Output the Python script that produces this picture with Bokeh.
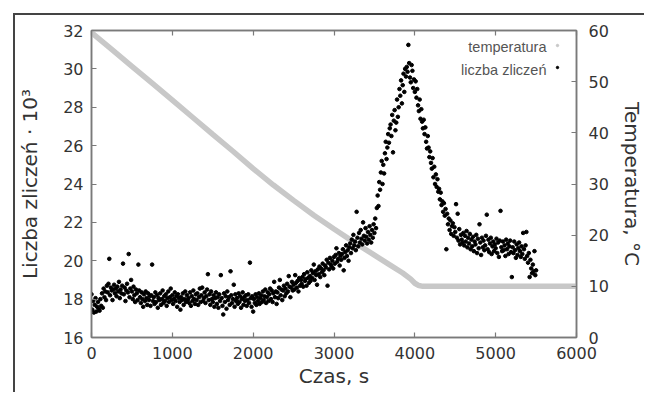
from bokeh.plotting import figure
from bokeh.models import (Range1d, LinearAxis, FixedTicker, Label,
                          Legend, LegendItem, CustomJSTickFormatter)
from bokeh.embed import file_html
from bokeh.resources import INLINE

# ---------------- data ----------------
x_ticks = [0, 1000, 2000, 3000, 4000, 5000, 6000]
y_ticks = [16, 18, 20, 22, 24, 26, 28, 30, 32]
t_ticks = [0, 10, 20, 30, 40, 50, 60]

# temperature (°C)
temp_time = [0, 250, 500, 750, 1000, 1250, 1500, 1750, 2000, 2250, 2500, 2750,
             3000, 3250, 3500, 3700, 3850, 3950, 4000, 4050, 4100, 6000]
temp_c = [59.6, 56.3, 53.0, 49.7, 46.4, 43.05, 39.7, 36.4, 33.0, 29.8, 26.8, 23.9,
          21.2, 18.6, 16.1, 14.1, 12.6, 11.4, 10.6, 10.15, 10.0, 10.0]

# counts (x 10^3), one point every 10 s starting at 0 s
counts = [
    18.25, 17.45, 17.9, 17.3, 17.7, 18.05, 17.35, 17.6, 17.85, 17.5,
    17.4, 18.0, 17.65, 18.3, 17.55, 18.55, 18.1, 18.4, 17.95, 18.7,
    18.35, 18.8, 20.1, 18.2, 18.6, 18.45, 17.95, 18.5, 18.75, 18.3,
    18.55, 18.15, 18.65, 18.4, 18.9, 18.05, 18.5, 18.3, 18.7, 19.85,
    18.25, 18.6, 17.9, 18.45, 18.8, 18.35, 20.35, 18.1, 18.55, 19.0,
    18.4, 18.0, 18.65, 18.2, 17.85, 18.5, 18.3, 17.95, 19.8, 18.45,
    18.1, 17.8, 18.35, 18.0, 17.6, 18.25, 17.9, 18.4, 18.05, 17.7,
    18.3, 17.95, 18.15, 17.65, 18.2, 19.8, 17.9, 18.1, 17.75, 18.35,
    17.85, 18.2, 17.55, 18.05, 17.95, 18.3, 17.7, 18.0, 18.45, 17.8,
    18.15, 17.9, 18.25, 17.65, 18.05, 18.4, 17.85, 18.1, 18.55, 17.95,
    18.2, 17.75, 18.0, 18.35, 17.9, 18.15, 17.6, 18.25, 18.05, 17.85,
    17.45, 18.1, 17.95, 18.3, 17.7, 18.0, 18.4, 17.85, 18.2, 17.95,
    18.05, 17.8, 18.35, 17.65, 18.15, 17.9, 18.45, 18.0, 17.75, 18.25,
    17.95, 18.3, 17.7, 18.1, 18.55, 17.85, 18.2, 18.6, 17.9, 18.05,
    18.35, 17.8, 18.15, 18.5, 19.3, 17.95, 18.25, 17.7, 18.4, 18.0,
    17.85, 18.2, 17.6, 18.05, 18.35, 17.75, 18.1, 17.55, 18.25, 17.9,
    19.25, 18.05, 17.65, 17.2, 18.3, 17.85, 18.15, 17.5, 18.4, 17.95,
    18.1, 17.7, 19.45, 18.2, 17.8, 18.0, 18.75, 17.6, 18.25, 17.9,
    18.05, 17.75, 18.3, 17.85, 18.15, 17.55, 18.0, 18.35, 17.7, 18.1,
    17.9, 18.2, 17.65, 17.95, 18.25, 17.8, 19.9, 18.05, 17.6, 18.15,
    17.35, 18.0, 17.8, 18.25, 17.7, 18.1, 17.9, 18.3, 17.75, 18.05,
    18.2, 17.85, 18.4, 17.95, 18.15, 18.5, 17.8, 18.1, 18.35, 17.9,
    18.25, 18.55, 18.0, 18.45, 17.85, 18.3, 18.9, 18.1, 18.4, 17.75,
    18.35, 18.05, 18.6, 19.0, 18.2, 18.5, 17.95, 18.45, 18.7, 18.15,
    18.55, 18.3, 18.8, 18.4, 19.2, 18.65, 18.1, 18.6, 18.9, 18.45,
    18.75, 18.5, 19.25, 18.85, 18.6, 18.95, 18.4, 19.1, 18.7, 19.0,
    18.8, 19.15, 18.65, 19.3, 18.95, 19.05, 18.7, 19.4, 19.1, 18.85,
    19.2, 18.95, 19.5, 19.1, 19.35, 19.8, 19.0, 19.45, 19.25, 18.75,
    19.55, 19.3, 19.7, 19.15, 19.6, 19.4, 19.85, 19.5, 19.25, 19.75,
    19.65, 20.05, 18.7, 19.9, 19.55, 20.15, 19.8, 19.7, 20.0, 19.6,
    20.2, 19.85, 20.3, 20.65, 19.95, 20.1, 20.4, 19.75, 20.25, 20.05,
    20.35, 20.6, 19.5, 20.15, 20.45, 20.8, 20.25, 20.55, 20.0, 20.7,
    20.9, 20.4, 21.1, 20.65, 21.35, 20.8, 21.0, 20.55, 22.55, 21.2,
    20.75, 21.45, 20.95, 21.6, 21.15, 20.85, 22.0, 21.3, 21.05, 21.7,
    21.25, 20.9, 21.5, 21.1, 21.8, 21.35, 20.95, 21.6, 21.2, 21.9,
    21.45, 22.2, 21.7, 22.75, 23.4, 22.85, 24.1, 23.7, 24.6, 25.2,
    24.0, 25.0, 24.55, 25.6, 26.2, 25.3, 25.9, 26.6, 26.15, 26.9,
    27.1, 26.5, 27.6, 25.65, 27.3, 27.85, 26.8, 27.2, 28.4, 27.5,
    28.0, 28.95, 28.6, 29.4, 28.2, 29.15, 29.75, 28.8, 30.0, 29.6,
    30.1, 29.85, 31.25, 30.3, 29.55, 29.3, 30.2, 29.9, 29.0, 29.45,
    28.8, 29.35, 28.5, 28.95, 28.1, 27.8, 28.4, 27.4, 27.9, 27.25,
    26.9, 27.35, 26.6, 26.95, 26.2, 25.85, 26.5, 25.9, 25.4, 25.7,
    25.1, 24.8, 25.35, 24.35, 24.9, 24.0, 24.5, 23.85, 24.25, 23.6,
    23.75, 23.2, 23.55, 22.9, 23.1, 22.55, 23.0, 22.35, 22.7, 20.6,
    22.45, 21.9, 22.2, 21.6, 22.1, 21.4, 21.8, 21.95, 21.3, 21.75,
    21.5, 22.95, 21.2, 22.45, 21.05, 21.65, 20.85, 21.35, 21.1, 20.95,
    21.45, 20.8, 21.3, 21.0, 21.55, 20.7, 21.2, 20.9, 21.4, 20.6,
    21.1, 20.75, 21.25, 20.5, 21.0, 20.85, 21.35, 20.4, 21.15, 20.65,
    21.9, 20.95, 20.3, 21.2, 20.7, 21.05, 20.55, 20.8, 21.3, 22.4,
    20.6, 21.1, 20.45, 20.9, 21.2, 20.35, 20.75, 21.0, 20.5, 20.85,
    20.65, 21.15, 20.4, 20.95, 20.2, 21.05, 22.6, 20.7, 20.5, 21.0,
    20.55, 20.8, 20.25, 21.1, 20.6, 20.9, 20.35, 20.75, 21.05, 20.45,
    19.15, 20.7, 20.4, 21.0, 20.55, 20.15, 20.85, 20.3, 20.65, 20.95,
    20.5, 20.2, 20.75, 20.35, 21.45, 20.6, 20.1, 20.8, 21.5, 20.25,
    19.9, 20.4, 19.15, 20.05, 19.6, 19.35, 19.8, 19.45, 20.5, 19.25,
    19.5,
]
time_s = list(range(0, 10 * len(counts), 10))

# ---------------- styles ----------------
TICK_FONT = "DejaVu Sans"
AX_COLOR = "#7a7a7a"
TXT_COLOR = "#333333"

p = figure(width=631, height=379, output_backend="svg", toolbar_location=None,
           x_range=Range1d(0, 6000), y_range=Range1d(16, 32),
           min_border_left=75, min_border_right=64, min_border_top=15,
           min_border_bottom=57)
p.margin = (13, 0, 0, 13)
p.styles = {"border-left": "2px solid #444444", "border-top": "2px solid #444444"}
p.extra_y_ranges = {"temp": Range1d(0, 60)}
p.grid.visible = False
p.outline_line_color = AX_COLOR
p.outline_line_width = 1.5
p.background_fill_color = "white"
p.border_fill_color = "white"

r_tdot = p.scatter(temp_time, temp_c, y_range_name="temp", size=3,
                   color="#c8c8c8")
p.line(temp_time, temp_c, y_range_name="temp", line_width=5.5,
       line_color="#c8c8c8")
r_cnt = p.scatter(time_s, counts, size=3.6, color="black")


def style_axis(ax, labels=True):
    ax.axis_line_color = AX_COLOR
    ax.axis_line_width = 1.5
    ax.major_tick_line_color = AX_COLOR
    ax.major_tick_line_width = 1.2
    ax.major_tick_in = 5
    ax.major_tick_out = 0
    ax.minor_tick_line_color = None
    ax.major_label_text_font = TICK_FONT
    ax.major_label_text_font_size = "16px" if labels else "1px"
    ax.major_label_text_color = TXT_COLOR
    ax.axis_label_text_font = TICK_FONT
    ax.axis_label_text_font_size = "20px"
    ax.axis_label_text_font_style = "normal"
    ax.axis_label_text_color = TXT_COLOR


xa = p.xaxis[0]
xa.ticker = FixedTicker(ticks=x_ticks)
xa.axis_label = "Czas, s"
style_axis(xa)
xa.major_label_standoff = 9
xa.axis_label_standoff = 2

ya = p.yaxis[0]
ya.ticker = FixedTicker(ticks=y_ticks)
ya.axis_label = "Liczba zliczeń · 10³"
style_axis(ya)
ya.major_label_standoff = 8
ya.axis_label_standoff = 18

# top frame edge: inward ticks only, no labels
top_ax = LinearAxis(ticker=FixedTicker(ticks=x_ticks),
                    formatter=CustomJSTickFormatter(code="return ''"))
style_axis(top_ax, labels=False)
top_ax.major_label_standoff = 0
p.add_layout(top_ax, "above")

ra = LinearAxis(y_range_name="temp", ticker=FixedTicker(ticks=t_ticks),
                axis_label="Temperatura, °C")
style_axis(ra)
ra.major_label_standoff = 12
ra.axis_label_standoff = 8
p.add_layout(ra, "right")

# legend: glyphs to the right of right-aligned texts (as in the original)
leg = Legend(items=[LegendItem(label=" ", renderers=[r_tdot]),
                    LegendItem(label=" ", renderers=[r_cnt])],
             location="top_right", margin=12, padding=12, glyph_width=6,
             glyph_height=6, label_standoff=0, label_width=4, label_height=6,
             label_text_font_size="1px", spacing=16,
             border_line_color=None, background_fill_alpha=0)
p.add_layout(leg)
for txt, yy in (("temperatura", 291), ("liczba zliczeń", 268)):
    p.add_layout(Label(x=455, y=yy, x_units="screen", y_units="screen",
                       text=txt, text_align="right", text_baseline="middle",
                       text_font="Liberation Sans", text_font_size="14.5px",
                       text_color="#555555"))

open("out.html", "w").write(file_html(p, INLINE))
